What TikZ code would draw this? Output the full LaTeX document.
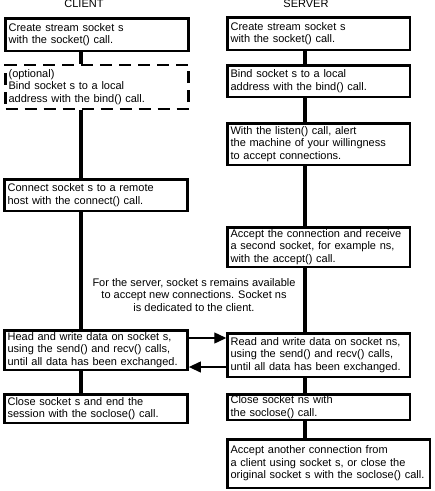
\documentclass[tikz,border=0pt]{standalone}
\usepackage{fontspec}
\setmainfont{Liberation Sans}
\usetikzlibrary{arrows.meta}
\newcommand\boxlines[1]{\raisebox{-1.2pt}{\begin{tabular}{@{}l@{}}#1\end{tabular}}}
\begin{document}
\begin{tikzpicture}[x=1pt,y=-1pt,
  txt/.style={font=\fontsize{11}{12.6}\selectfont},
  box/.style={txt, draw, line width=2.6pt, fill=white, anchor=north west,
    inner xsep=3pt, inner ysep=0pt, align=left},
  cbox/.style={box, minimum width=183pt, text width=177pt},
  sbox/.style={box, minimum width=182.4pt, text width=176.4pt},
  dashedbox/.style={dash pattern=on 12pt off 7pt},
  vline/.style={line width=4.5pt},
  arr/.style={line width=1.2pt, -{Triangle[length=12pt,width=11pt]}},
  title/.style={txt, anchor=base, inner sep=0pt},
  note/.style={txt, align=center, anchor=north, inner sep=0pt}
]
\useasboundingbox (0,0) rectangle (435,491);
\fill[white] (0,0) rectangle (435,491);
\coordinate (cl) at (81,0);
\coordinate (sl) at (305,0);
\coordinate (ya) at (0,338);
\coordinate (yb) at (0,367);

\node[title] (tc) at (84,7.5) {CLIENT};
\node[title] (ts) at (306,7.5) {SERVER};

% client column
\node[cbox, minimum height=32.4pt] (c1) at (4.3,17.3) {\boxlines{Create stream socket s\\with the socket() call.}};
\node[cbox, dashedbox, minimum height=44pt] (c2) at (4.3,63.8) {\boxlines{(optional)\\Bind socket s to a local\\address with the bind() call.}};
\node[cbox, minimum height=31.4pt] (c3) at (3.3,178.3) {\boxlines{Connect socket s to a remote\\host with the connect() call.}};
\node[cbox, minimum height=39.4pt] (c4) at (3.3,329.3) {\boxlines{Head and write data on socket s,\\using the send() and recv() calls,\\until all data has been exchanged.}};
\node[cbox, minimum height=28.4pt] (c5) at (3.3,393.3) {\boxlines{Close socket s and end the\\session with the soclose() call.}};

% server column
\node[sbox, minimum height=32.4pt] (s1) at (226.3,16.3) {\boxlines{Create stream socket s\\with the socket() call.}};
\node[sbox, minimum height=31.4pt] (s2) at (226.3,64.3) {\boxlines{Bind socket s to a local\\address with the bind() call.}};
\node[sbox, minimum height=41.4pt] (s3) at (226.3,122.3) {\boxlines{With the listen() call, alert\\the machine of your willingness\\to accept connections.}};
\node[sbox, minimum height=39.4pt] (s4) at (226.3,226.3) {\boxlines{Accept the connection and receive\\a second socket, for example ns,\\with the accept() call.}};
\node[sbox, minimum height=43.4pt] (s5) at (226.3,332.3) {\boxlines{Read and write data on socket ns,\\using the send() and recv() calls,\\until all data has been exchanged.}};
\node[sbox, minimum height=24pt] (s6) at (226.3,393.3) {\boxlines{Close socket ns with\\the soclose() call.}};
\node[box, minimum width=202.4pt, text width=196.4pt, minimum height=48.4pt] (s7) at (226.3,438.3) {\boxlines{Accept another connection from\\a client using socket s, or close the\\original socket s with the soclose() call.}};

\node[note] (n) at (194,278) {For the server, socket s remains available\\to accept new connections. Socket ns\\is dedicated to the client.};

% vertical connectors
\draw[vline] (c1.south -| cl) -- (c2.north -| cl);
\draw[vline] (c2.south -| cl) -- (c3.north -| cl);
\draw[vline] (c3.south -| cl) -- (c4.north -| cl);
\draw[vline] (c4.south -| cl) -- (c5.north -| cl);
\draw[vline] (s1.south -| sl) -- (s2.north -| sl);
\draw[vline] (s2.south -| sl) -- (s3.north -| sl);
\draw[vline] (s3.south -| sl) -- (s4.north -| sl);
\draw[vline] (s4.south -| sl) -- (s5.north -| sl);
\draw[vline] (s5.south -| sl) -- (s6.north -| sl);
\draw[vline] (s6.south -| sl) -- (s7.north -| sl);

% data exchange arrows
\draw[arr] (c4.east |- ya) -- (s5.west |- ya);
\draw[arr] (s5.west |- yb) -- (c4.east |- yb);
\end{tikzpicture}
\end{document}
